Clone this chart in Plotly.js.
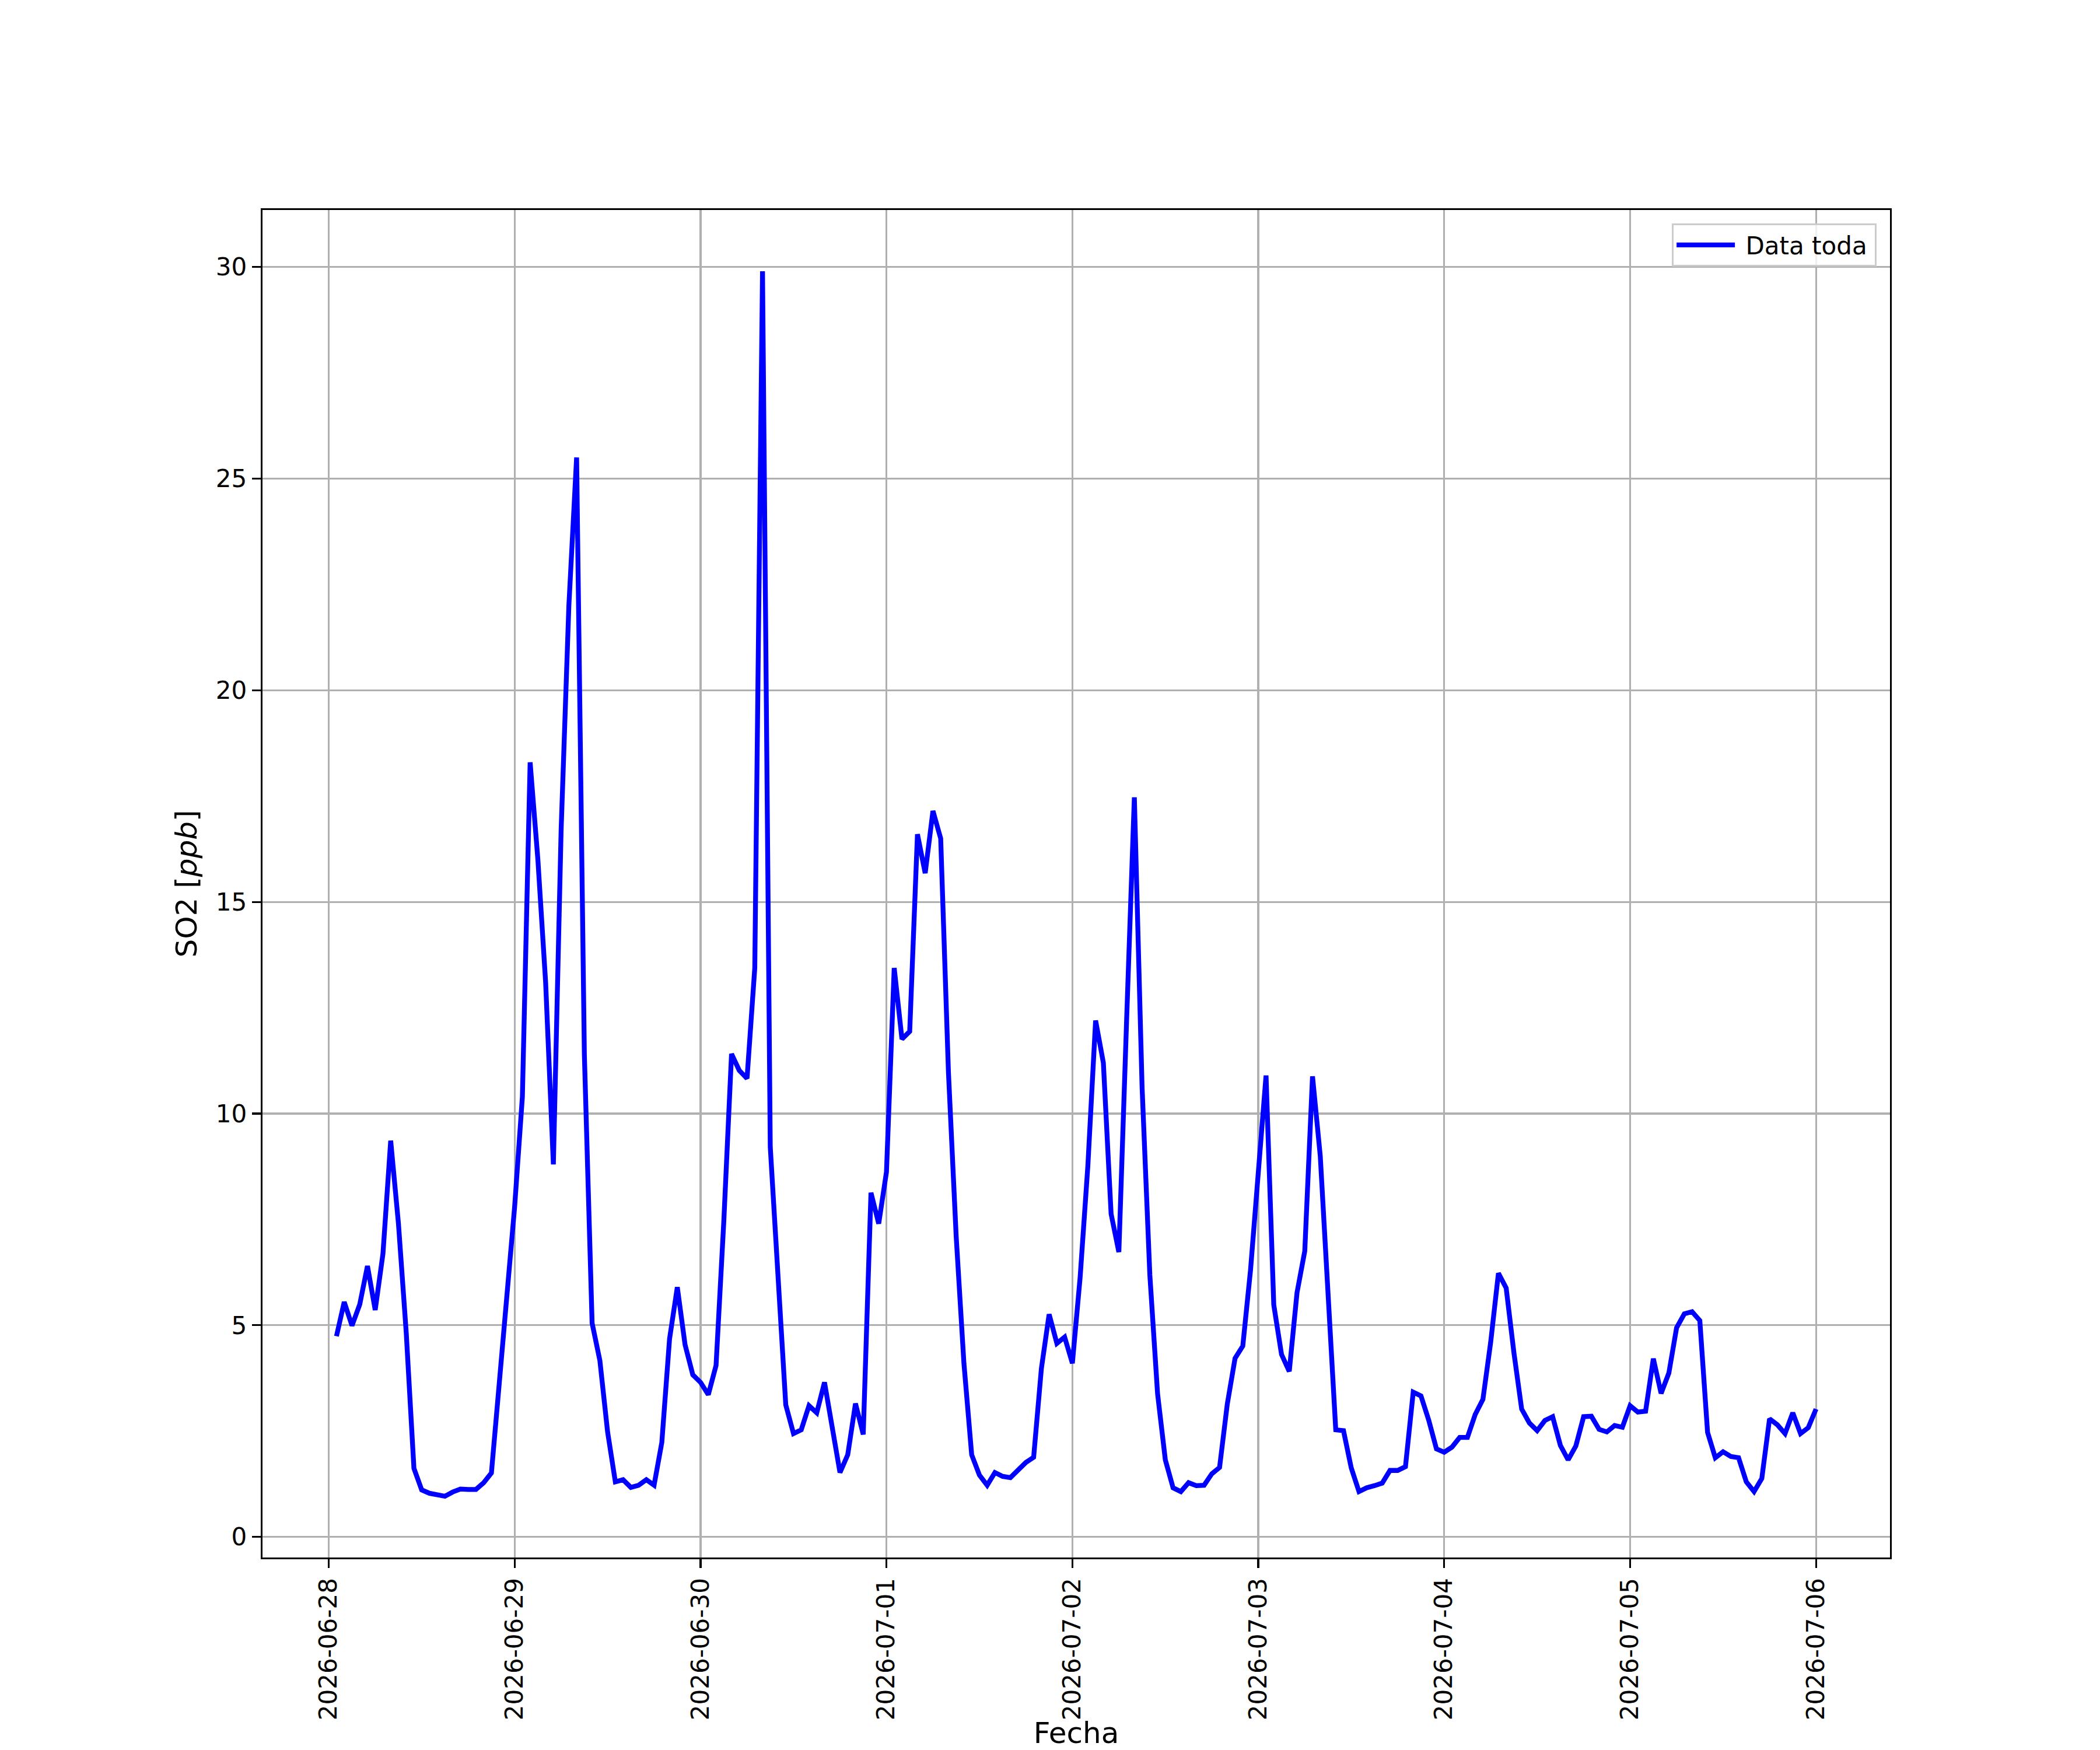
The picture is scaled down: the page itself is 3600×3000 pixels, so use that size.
<!DOCTYPE html>
<html>
<head>
<meta charset="utf-8">
<script src="https://cdn.plot.ly/plotly-3.0.1.min.js"></script>
<style>html,body{margin:0;padding:0;background:#ffffff;}</style>
</head>
<body>
<div id="chart" style="width:3600px;height:3000px;"></div>
<script>
// ---- data (hourly SO2, ppb), first reading 2026-06-28 01:00 ----
const startYear = 2026, startMonth = 6, startDay = 28, startHour = 1;
const dayTicks = ['2026-06-28','2026-06-29','2026-06-30','2026-07-01','2026-07-02','2026-07-03','2026-07-04','2026-07-05','2026-07-06'];
const yTicks = [0, 5, 10, 15, 20, 25, 30];

const so2_day1 = [4.74,5.55,4.99,5.49,6.40,5.36,6.69,9.36,7.40,4.84,1.62,1.11,1.03,0.99,0.96,1.06,1.13,1.12,1.12,1.28,1.51,3.60,5.70,7.80];
const so2_day2 = [10.4,18.3,16.0,13.1,8.8,16.7,22.0,25.5,11.4,5.05,4.17,2.48,1.30,1.35,1.17,1.22,1.35,1.22,2.23,4.68,5.90,4.54,3.83,3.65];
const so2_day3 = [3.36,4.05,7.45,11.41,11.02,10.83,13.44,29.9,9.21,6.20,3.12,2.44,2.53,3.10,2.93,3.65,2.53,1.52,1.94,3.15,2.42,8.13,7.40,8.62];
const so2_day4 = [13.44,11.76,11.94,16.6,15.68,17.15,16.5,10.98,7.10,4.10,1.94,1.46,1.22,1.52,1.43,1.40,1.58,1.76,1.88,3.98,5.26,4.57,4.72,4.10];
const so2_day5 = [6.13,8.77,12.2,11.2,7.63,6.73,12.2,17.47,10.62,6.19,3.38,1.82,1.16,1.07,1.28,1.21,1.22,1.49,1.64,3.14,4.22,4.51,6.31,8.80];
const so2_day6 = [10.9,5.48,4.31,3.91,5.77,6.75,10.88,9.00,5.80,2.53,2.51,1.63,1.07,1.16,1.21,1.27,1.57,1.57,1.66,3.42,3.33,2.76,2.08,2.00];
const so2_day7 = [2.12,2.35,2.35,2.89,3.25,4.60,6.23,5.88,4.35,3.02,2.69,2.51,2.75,2.84,2.16,1.82,2.15,2.84,2.85,2.54,2.48,2.63,2.59,3.10];
const so2_day8 = [2.95,2.97,4.21,3.39,3.87,4.94,5.27,5.32,5.11,2.47,1.87,2.01,1.90,1.87,1.30,1.07,1.38,2.79,2.65,2.44,2.93,2.44,2.58,3.02];

const seriesName = '\u00a0Data toda\u2009';
const xLabel = 'Fecha';
const yLabel = 'SO2 [<i>ppb</i>]';

// ---- build ----
const so2 = [].concat(so2_day1, so2_day2, so2_day3, so2_day4, so2_day5, so2_day6, so2_day7, so2_day8);
const t0 = Date.UTC(startYear, startMonth - 1, startDay, startHour);
const HOUR = 3600000;
function fmt(ms){ return new Date(ms).toISOString().slice(0,19).replace('T',' '); }
const times = so2.map((_, i) => fmt(t0 + i * HOUR));

const tFirst = t0, tLast = t0 + (so2.length - 1) * HOUR;
const xPad = 0.05 * (tLast - tFirst);
const yMin = Math.min(...so2), yMax = Math.max(...so2);
const yPad = 0.05 * (yMax - yMin);

const trace = {
  x: times, y: so2, type: 'scatter', mode: 'lines', name: seriesName,
  line: {color: '#0000ff', width: 8.3}
};

const axisCommon = {
  ticks: 'outside', ticklen: 15, tickwidth: 3.3, tickcolor: '#000000',
  showline: true, linecolor: '#000000', linewidth: 3.3, mirror: true,
  showgrid: true, gridcolor: '#b0b0b0', gridwidth: 3.3, zeroline: false,
  tickfont: {family: 'DejaVu Sans', size: 42, color: '#000000'}
};

const layout = Object.assign({
  width: 3600, height: 3000,
  paper_bgcolor: '#ffffff', plot_bgcolor: '#ffffff',
  font: {family: 'DejaVu Sans', size: 42, color: '#000000'},
  margin: {l: 450, r: 360, t: 360, b: 330, pad: 0},
  showlegend: true,
  legend: {
    x: 0.9918, y: 0.990, xanchor: 'right', yanchor: 'top',
    bgcolor: 'rgba(255,255,255,0.8)', bordercolor: '#cccccc', borderwidth: 3,
    font: {family: 'DejaVu Sans', size: 42, color: '#000000'},
    itemwidth: 100
  },
  xaxis: Object.assign({}, axisCommon, {
    type: 'date',
    range: [fmt(tFirst - xPad), fmt(tLast + xPad)],
    tickvals: dayTicks, ticktext: dayTicks, tickangle: -90,
    title: {text: xLabel, font: {family: 'DejaVu Sans', size: 50, color: '#000000'}, standoff: 26}
  }),
  yaxis: Object.assign({}, axisCommon, {
    range: [yMin - yPad, yMax + yPad],
    tickvals: yTicks, ticktext: yTicks.map(String),
    title: {text: yLabel, font: {family: 'DejaVu Sans', size: 50, color: '#000000'}, standoff: 17}
  })
});

Plotly.newPlot('chart', [trace], layout, {displayModeBar: false, staticPlot: true});
</script>
</body>
</html>
